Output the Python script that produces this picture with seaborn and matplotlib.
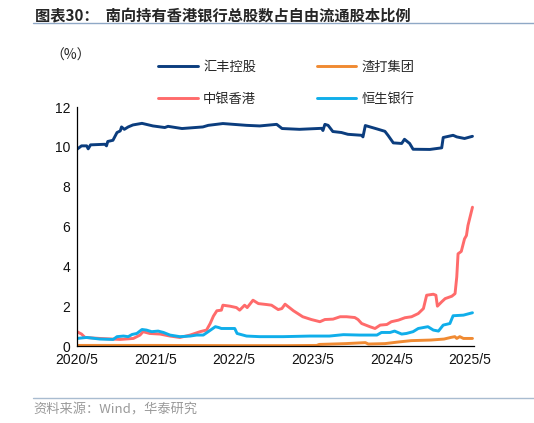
import pandas as pd
import matplotlib
matplotlib.use('Agg')
import matplotlib.pyplot as plt
import seaborn as sns

sns.set_style('white')
plt.rcParams['font.family'] = ['Liberation Sans', 'Noto Sans CJK SC', 'DejaVu Sans']

# 汇丰控股
hsbc_dates = ['2020-05-01', '2020-05-22', '2020-06-15', '2020-06-22', '2020-07-03', '2020-09-08',
              '2020-09-15', '2020-09-21', '2020-10-15', '2020-11-03', '2020-11-18', '2020-11-24',
              '2020-12-07', '2020-12-25', '2021-01-16', '2021-02-27', '2021-04-19', '2021-06-13',
              '2021-06-28', '2021-09-01', '2021-12-07', '2022-01-01', '2022-03-10', '2022-06-28',
              '2022-08-28', '2022-11-15', '2022-12-10', '2023-03-01', '2023-06-12', '2023-06-18',
              '2023-06-27', '2023-07-12', '2023-08-03', '2023-09-12', '2023-10-12', '2023-12-15',
              '2023-12-21', '2024-01-01', '2024-02-24', '2024-04-01', '2024-04-16', '2024-05-10',
              '2024-06-18', '2024-07-01', '2024-07-25', '2024-08-10', '2024-10-27', '2024-12-21',
              '2024-12-28', '2025-02-12', '2025-03-01', '2025-04-06', '2025-05-13']
hsbc_vals = [9.88, 10.05, 10.05, 9.9, 10.1, 10.13,
             10.05, 10.27, 10.33, 10.72, 10.8, 11.0,
             10.88, 11.0, 11.1, 11.18, 11.05, 10.97,
             11.03, 10.92, 11.0, 11.08, 11.17, 11.08,
             11.05, 11.13, 10.92, 10.88, 10.93, 10.82,
             11.13, 11.08, 10.77, 10.72, 10.63, 10.58,
             10.5, 11.07, 10.9, 10.78, 10.57, 10.2,
             10.17, 10.38, 10.17, 9.88, 9.87, 9.95,
             10.47, 10.58, 10.5, 10.42, 10.53]

# 渣打集团
sc_dates = ['2020-05-01', '2021-05-01', '2022-05-01', '2023-01-01', '2023-05-20', '2023-06-01',
            '2023-10-01', '2024-01-01', '2024-01-15', '2024-04-01', '2024-06-01', '2024-08-01',
            '2024-11-01', '2025-01-01', '2025-02-01', '2025-02-20', '2025-03-01', '2025-03-15',
            '2025-04-01', '2025-05-13']
sc_vals = [0.03, 0.03, 0.02, 0.02, 0.03, 0.08,
           0.12, 0.17, 0.1, 0.12, 0.2, 0.27,
           0.3, 0.35, 0.43, 0.47, 0.38, 0.47,
           0.38, 0.38]

# 中银香港
boc_dates = ['2020-05-01', '2020-05-22', '2020-06-07', '2020-08-15', '2020-11-18', '2021-01-18',
             '2021-02-18', '2021-03-04', '2021-04-04', '2021-05-22', '2021-07-07', '2021-08-22',
             '2021-10-09', '2021-11-24', '2021-12-24', '2022-01-10', '2022-01-25', '2022-02-10',
             '2022-03-03', '2022-03-10', '2022-04-12', '2022-05-12', '2022-05-27', '2022-06-19',
             '2022-07-01', '2022-07-28', '2022-08-22', '2022-10-01', '2022-10-22', '2022-11-22',
             '2022-12-09', '2022-12-24', '2023-02-01', '2023-03-16', '2023-04-25', '2023-06-04',
             '2023-06-27', '2023-08-04', '2023-09-06', '2023-10-06', '2023-11-13', '2023-11-28',
             '2023-12-15', '2024-01-22', '2024-02-15', '2024-03-10', '2024-04-10', '2024-05-01',
             '2024-06-03', '2024-07-03', '2024-08-03', '2024-09-03', '2024-09-27', '2024-10-12',
             '2024-11-12', '2024-11-24', '2024-12-01', '2024-12-21', '2025-01-06', '2025-02-06',
             '2025-02-21', '2025-03-01', '2025-03-07', '2025-03-22', '2025-04-06', '2025-04-15',
             '2025-04-22', '2025-05-13']
boc_vals = [0.72, 0.6, 0.43, 0.38, 0.33, 0.38,
            0.55, 0.72, 0.63, 0.6, 0.5, 0.43,
            0.55, 0.72, 0.8, 1.13, 1.5, 1.77,
            1.8, 2.05, 2.0, 1.93, 1.8, 2.05,
            1.93, 2.3, 2.13, 2.08, 2.05, 1.83,
            1.88, 2.1, 1.77, 1.47, 1.33, 1.22,
            1.33, 1.35, 1.47, 1.47, 1.43, 1.33,
            1.13, 0.97, 0.88, 1.05, 1.08, 1.22,
            1.3, 1.42, 1.47, 1.63, 1.88, 2.55,
            2.6, 2.55, 2.0, 2.22, 2.38, 2.5,
            2.63, 3.47, 4.63, 4.75, 5.38, 5.55,
            6.05, 6.97]

# 恒生银行
hs_dates = ['2020-05-01', '2020-06-15', '2020-08-15', '2020-10-16', '2020-11-03', '2020-12-03',
            '2020-12-25', '2021-01-12', '2021-02-03', '2021-02-27', '2021-03-20', '2021-04-13',
            '2021-05-13', '2021-06-07', '2021-07-07', '2021-08-22', '2021-10-09', '2021-11-08',
            '2021-12-09', '2022-01-01', '2022-02-03', '2022-02-18', '2022-03-03', '2022-05-04',
            '2022-05-15', '2022-06-28', '2022-08-28', '2022-12-15', '2023-04-18', '2023-07-18',
            '2023-09-21', '2023-12-06', '2024-02-24', '2024-03-16', '2024-04-25', '2024-05-16',
            '2024-06-18', '2024-07-10', '2024-08-10', '2024-09-03', '2024-10-18', '2024-11-12',
            '2024-12-06', '2024-12-28', '2025-01-28', '2025-02-12', '2025-04-01', '2025-05-13']
hs_vals = [0.38, 0.43, 0.35, 0.33, 0.47, 0.5,
           0.47, 0.58, 0.63, 0.83, 0.8, 0.72,
           0.75, 0.68, 0.55, 0.47, 0.5, 0.55,
           0.55, 0.72, 0.97, 0.93, 0.88, 0.88,
           0.63, 0.5, 0.47, 0.47, 0.5, 0.5,
           0.57, 0.55, 0.55, 0.68, 0.68, 0.75,
           0.6, 0.63, 0.72, 0.88, 0.97, 0.8,
           0.75, 1.05, 1.13, 1.52, 1.55, 1.67]

names = ['汇丰控股', '渣打集团', '中银香港', '恒生银行']
colors = ['#0B3D7E', '#F08A32', '#FF6B6B', '#10AEEA']
x_ticks = ['2020-05-01', '2021-05-01', '2022-05-01', '2023-05-01', '2024-05-01', '2025-05-01']
x_labels = ['2020/5', '2021/5', '2022/5', '2023/5', '2024/5', '2025/5']

frames = []
for n, d, v in zip(names, [hsbc_dates, sc_dates, boc_dates, hs_dates],
                   [hsbc_vals, sc_vals, boc_vals, hs_vals]):
    frames.append(pd.DataFrame({'date': pd.to_datetime(d), 'val': v, 'name': n}))
df = pd.concat(frames)

fig = plt.figure(figsize=(5.34, 4.23), dpi=100)
ax = fig.add_axes([0.1442, 0.182, 0.7434, 0.565])
sns.lineplot(data=df, x='date', y='val', hue='name', hue_order=names,
             palette=colors, linewidth=2.1, ax=ax, legend=True)

ax.set_ylim(0, 12)
ax.set_yticks([0, 2, 4, 6, 8, 10, 12])
ax.set_xlim(pd.Timestamp('2020-05-01'), pd.Timestamp('2025-05-20'))
ax.set_xticks(pd.to_datetime(x_ticks))
ax.set_xticklabels(x_labels)
ax.set_xlabel('')
ax.set_ylabel('')
for s in ['top', 'right']:
    ax.spines[s].set_visible(False)
for s in ['left', 'bottom']:
    ax.spines[s].set_color('black')
    ax.spines[s].set_linewidth(0.9)
ax.tick_params(axis='both', direction='out', length=3, width=0.9, color='black',
               labelsize=10, labelcolor='#111111', pad=2)

# 图例：两列，按行排列
h, l = ax.get_legend_handles_labels()
order = [0, 2, 1, 3]
ax.get_legend().remove()
fig.legend([h[i] for i in order], [l[i] for i in order], ncol=2, frameon=False,
           loc='upper left', bbox_to_anchor=(0.274, 0.885),
           handlelength=3.0, handletextpad=0.4, columnspacing=4.6, labelspacing=1.45,
           prop={'family': 'Noto Sans CJK SC', 'size': 9.5})

fig.text(0.094, 0.868, '（%）', fontsize=10, family='Noto Sans CJK SC', va='center')

fig.text(0.066, 0.964, '图表30：  南向持有香港银行总股数占自由流通股本比例', fontsize=11,
         fontweight='bold', family=['Noto Sans CJK SC', 'DejaVu Sans'], va='center')
fig.add_artist(plt.Line2D([0.062, 1.0], [0.945, 0.945], color='#8FA8C6', lw=1.0))
fig.add_artist(plt.Line2D([0.062, 1.0], [0.059, 0.059], color='#A9BCD0', lw=1.0))
fig.text(0.062, 0.03, '资料来源：Wind，华泰研究', fontsize=9.5, color='#9A9A9A',
         family=['Noto Sans CJK SC', 'DejaVu Sans'], va='center')

fig.savefig('out.png', dpi=100)
